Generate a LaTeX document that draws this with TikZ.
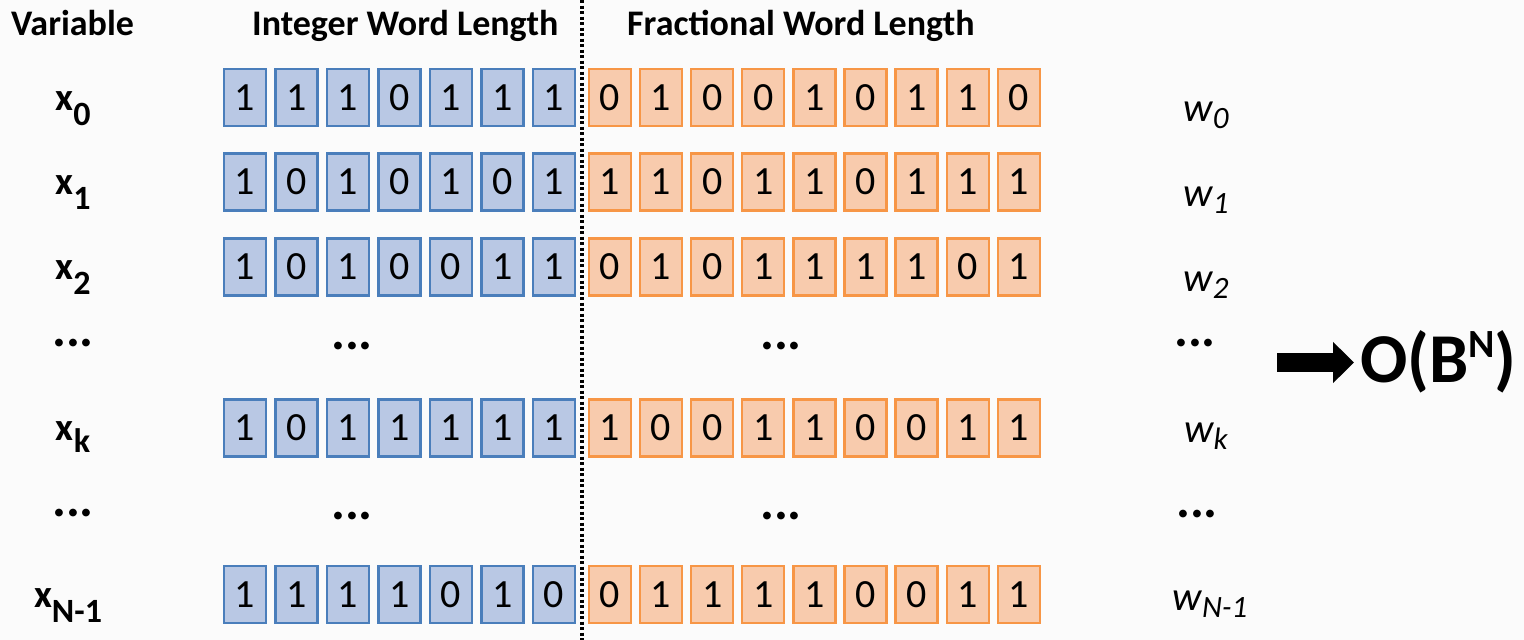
\documentclass[tikz,border=0pt]{standalone}
\usepackage{fontspec}
\setmainfont{Carlito}
\usetikzlibrary{arrows.meta}

\definecolor{intfill}{RGB}{185,200,228}
\definecolor{intline}{RGB}{74,126,187}
\definecolor{fracfill}{RGB}{248,203,173}
\definecolor{fracline}{RGB}{247,150,70}
\definecolor{bgcol}{RGB}{251,251,251}

% font size helper (sizes are given in pt, one pt per unit of the grid)
\newcommand{\fsz}[1]{\fontsize{#1}{#1}\selectfont}
% lowered / raised index of a given size
\newcommand{\lowidx}[3]{\raisebox{-#2pt}{\fsz{#1}#3}}
\newcommand{\highidx}[3]{\raisebox{#2pt}{\fsz{#1}#3}}

\begin{document}
\begin{tikzpicture}[x=1pt,y=-1pt,
  bit/.style={minimum width=42pt, minimum height=57pt, inner sep=0pt,
              line width=2.3pt, font=\fsz{40}},
  intbit/.style={bit, draw=intline, fill=intfill},
  fracbit/.style={bit, draw=fracline, fill=fracfill},
  header/.style={anchor=base west, inner sep=0pt, font=\fsz{36}\bfseries},
  varlabel/.style={anchor=base, inner sep=0pt, font=\fsz{39}\bfseries},
  wlabel/.style={anchor=base, inner sep=0pt, font=\fsz{41}\itshape},
  gap/.style={anchor=base, inner sep=0pt, font=\fsz{52}\bfseries},
  divider/.style={line width=3.6pt, dash pattern=on 3pt off 2.5pt},
  bigarrow/.style={line width=19pt, -{Triangle[length=21pt,width=40pt]},
                   shorten >=6pt},
  result/.style={anchor=base west, inner sep=0pt, font=\fsz{70}\bfseries}
]

% canvas
\fill[bgcol] (0,0) rectangle (1524,640);
\useasboundingbox (0,0) rectangle (1524,640);

% integer / fractional separator
\coordinate (divtop) at (582,0);
\coordinate (divbot) at (582,640);
\draw[divider] (divtop) -- (divbot);

% column headers
\node[header] (hvar)  at (11,35)  {Variable};
\node[header] (hint)  at (252,35) {Integer Word Length};
\node[header] (hfrac) at (627,35) {Fractional Word Length};

% bit rows: integer part (7 bits) and fractional part (9 bits)
\foreach \r/\yc/\ib/\fb in {
    0/97.5/{1,1,1,0,1,1,1}/{0,1,0,0,1,0,1,1,0},
    1/182/{1,0,1,0,1,0,1}/{1,1,0,1,1,0,1,1,1},
    2/267/{1,0,1,0,0,1,1}/{0,1,0,1,1,1,1,0,1},
    k/428/{1,0,1,1,1,1,1}/{1,0,0,1,1,0,0,1,1},
    N/594.5/{1,1,1,1,0,1,0}/{0,1,1,1,1,0,0,1,1}}{
  \foreach \v [count=\i] in \ib {
    \node[intbit] (b-\r-\i) at ({245+51.5*(\i-1)},\yc) {\v};
  }
  \foreach \v [count=\i] in \fb {
    \node[fracbit] (f-\r-\i) at ({610+51.1*(\i-1)},\yc) {\v};
  }
}

% variable names
\node[varlabel] (x0) at (73,110) {x\lowidx{34}{15}{0}};
\node[varlabel] (x1) at (73,194) {x\lowidx{34}{15}{1}};
\node[varlabel] (x2) at (73,279) {x\lowidx{34}{15}{2}};
\node[varlabel] (xk) at (73,440) {x\lowidx{34}{12}{k}};
\node[varlabel] (xN) at (68,607) {x\lowidx{34}{15}{N-1}};

% weights
\node[wlabel] (w0) at (1206,121) {w\lowidx{31}{7}{0}};
\node[wlabel] (w1) at (1206,206) {w\lowidx{31}{7}{1}};
\node[wlabel] (w2) at (1206,291) {w\lowidx{31}{7}{2}};
\node[wlabel] (wk) at (1206,442) {w\lowidx{31}{7}{k}};
\node[wlabel] (wN) at (1210,610) {w\lowidx{31}{7}{N-1}};

% omitted rows
\node[gap] (g1a) at (73,346)   {...};
\node[gap] (g1b) at (352,349)  {...};
\node[gap] (g1c) at (781,349)  {...};
\node[gap] (g1d) at (1195,346) {...};
\node[gap] (g2a) at (73,516)   {...};
\node[gap] (g2b) at (352,519)  {...};
\node[gap] (g2c) at (781,519)  {...};
\node[gap] (g2d) at (1197,517) {...};

% complexity
\node[result] (cost) at (1360,382) {O(B\highidx{40}{25}{N})};
\coordinate (arrowtail) at (1277,362.5);
\draw[bigarrow] (arrowtail) -- (arrowtail -| cost.west);

\end{tikzpicture}
\end{document}
